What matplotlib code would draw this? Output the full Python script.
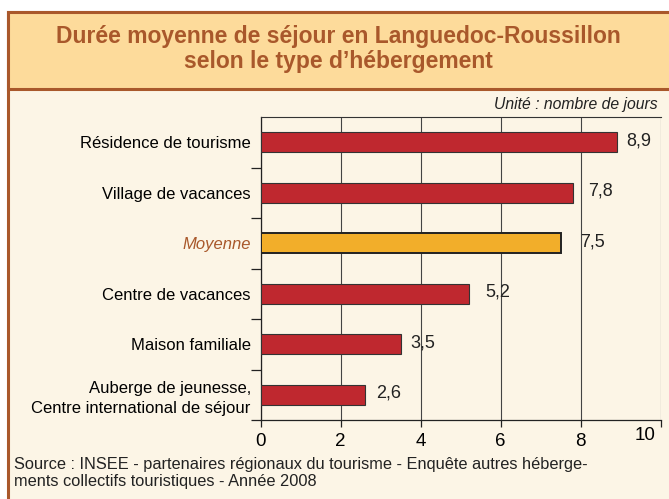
import matplotlib.pyplot as plt
from matplotlib.patches import Rectangle
from matplotlib.transforms import ScaledTranslation

# data
categories = [
    "Résidence de tourisme",
    "Village de vacances",
    "Moyenne",
    "Centre de vacances",
    "Maison familiale",
    "Auberge de jeunesse,\nCentre international de séjour",
]
values = [8.9, 7.8, 7.5, 5.2, 3.5, 2.6]
highlight = "Moyenne"
x_ticks = [0, 2, 4, 6, 8, 10]

title = "Durée moyenne de séjour en Languedoc-Roussillon\nselon le type d\u2019hébergement"
unit_note = "Unité : nombre de jours"
source = ("Source : INSEE - partenaires régionaux du tourisme - Enquête autres héberge-\n"
          "ments collectifs touristiques - Année 2008")

# gap between bar end and its value label (px), placed by hand in the original
label_gap = [10, 16, 20, 17, 10, 12]

brown = "#A9582B"
band = "#FDDB9B"
cream = "#FCF5E6"
red = "#BF282F"
gold = "#F2AE2A"

plt.rcParams["font.family"] = ["Liberation Sans", "DejaVu Sans"]

fig = plt.figure(figsize=(6.69, 4.99), dpi=100)
W, H = 669, 499


def fx(px):
    return px / W


def fy(py):
    return 1 - py / H


# frame: cream body + title band
fig.patches.append(Rectangle((fx(8), fy(H + 10)), fx(W + 20), fy(12) - fy(H + 10),
                             transform=fig.transFigure, facecolor=cream,
                             edgecolor=brown, linewidth=2.2, zorder=-5))
fig.patches.append(Rectangle((fx(8), fy(89)), fx(W + 20), fy(12) - fy(89),
                             transform=fig.transFigure, facecolor=band,
                             edgecolor=brown, linewidth=2.2, zorder=-5))

fig.text(fx(338), fy(49), title, ha="center", va="center", fontsize=16.5,
         fontweight="bold", color=brown, linespacing=1.15)
fig.text(fx(658), fy(104), unit_note, ha="right", va="center", fontsize=11.3,
         style="italic", color="#222222")
fig.text(fx(14), fy(473), source, ha="left", va="center", fontsize=11.8,
         color="#222222", linespacing=1.2)

ax = fig.add_axes([fx(260.5), fy(420), fx(660.5) - fx(260.5), fy(117) - fy(420)])
ax.set_facecolor("none")
ax.set_zorder(2)

y = list(range(len(categories)))
colors = [gold if c == highlight else red for c in categories]
edges = ["#222222" if c == highlight else "#333333" for c in categories]
ax.barh(y, values, height=0.4, color=colors, edgecolor=edges,
        linewidth=[1.4 if c == highlight else 0.8 for c in categories], zorder=3)

for yi, v, gap in zip(y, values, label_gap):
    ax.annotate(f"{v:.1f}".replace(".", ","), (v, yi), xytext=(gap * 0.72, 1),
                textcoords="offset points", ha="left", va="center",
                fontsize=13, color="#222222", zorder=4)

ax.set_xlim(0, 10)
ax.set_ylim(len(categories) - 0.5, -0.5)
ax.set_xticks(x_ticks)
ax.set_xticklabels([str(t) for t in x_ticks], fontsize=13.5)
ax.tick_params(axis="x", length=5, width=0.9, color="#222222", pad=4)

ax.set_yticks(y)
ax.set_yticklabels(categories, fontsize=12, linespacing=1.4)
ax.tick_params(axis="y", length=0, pad=7)
for lbl, c in zip(ax.get_yticklabels(), categories):
    if c == highlight:
        lbl.set_style("italic")
        lbl.set_color(brown)
ax.set_yticks([i + 0.5 for i in y], minor=True)
ax.tick_params(axis="y", which="minor", length=7, width=0.9, color="#222222")

# "10" sits a little higher and to the left in the reference
last = ax.get_xticklabels()[-1]
last.set_transform(last.get_transform() + ScaledTranslation(-15 / 100, 5 / 100, fig.dpi_scale_trans))

ax.grid(axis="x", color="#444444", linewidth=0.8, zorder=1)
ax.spines["right"].set_visible(False)
ax.spines["top"].set_color("#333333")
ax.spines["top"].set_linewidth(0.8)
ax.spines["left"].set_color("#222222")
ax.spines["bottom"].set_color("#222222")
ax.spines["left"].set_linewidth(0.9)
ax.spines["bottom"].set_linewidth(0.9)

fig.savefig("out.png", dpi=100, facecolor="white")
